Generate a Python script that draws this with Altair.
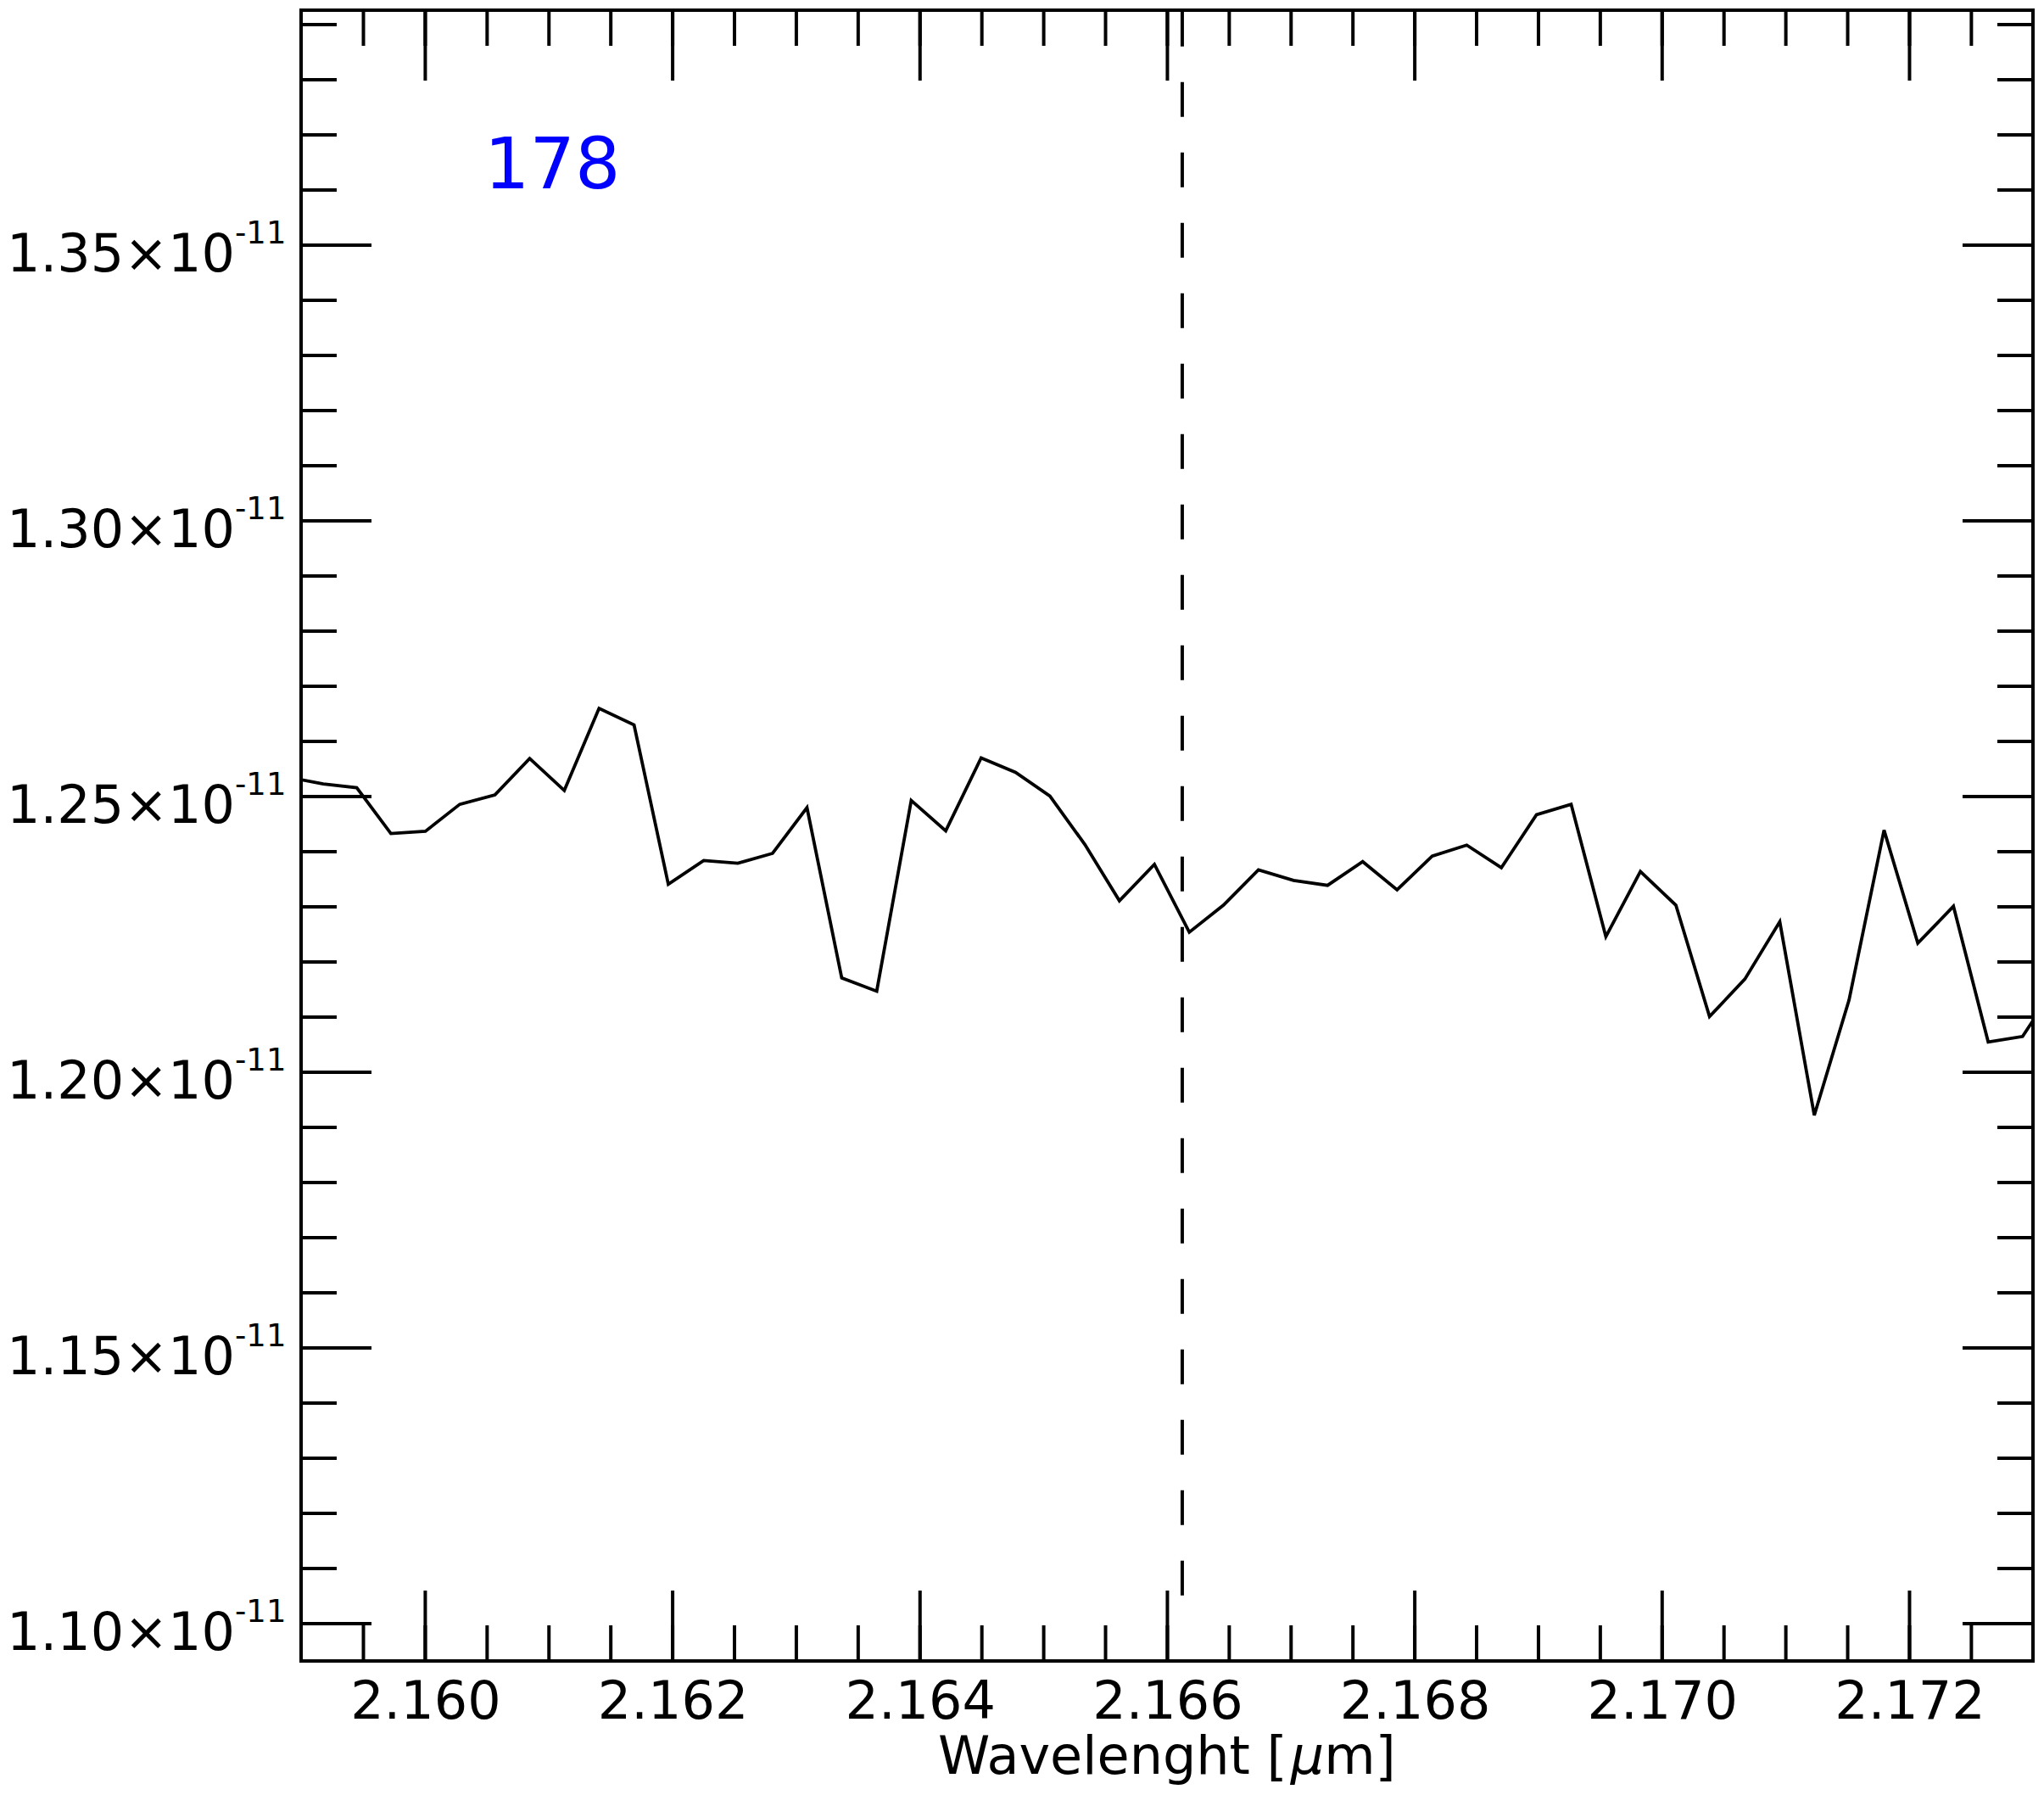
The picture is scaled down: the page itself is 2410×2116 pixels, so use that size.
import altair as alt
import pandas as pd

# ---- data ----
wavelength = [
    2.158894, 2.159175, 2.159446, 2.159722, 2.160001, 2.160279, 2.160563, 2.160844,
    2.161124, 2.161405, 2.161688, 2.161965, 2.162251, 2.162527, 2.162808, 2.163086,
    2.163367, 2.163650, 2.163929, 2.164208, 2.164494, 2.164772, 2.165050, 2.165333,
    2.165612, 2.165895, 2.166177, 2.166453, 2.166736, 2.167020, 2.167295, 2.167579,
    2.167857, 2.168141, 2.168420, 2.168700, 2.168984, 2.169264, 2.169545, 2.169824,
    2.170111, 2.170383, 2.170669, 2.170951, 2.171230, 2.171511, 2.171794, 2.172067,
    2.172355, 2.172636, 2.172914, 2.173193,
]
flux_1e11 = [
    1.2535, 1.2523, 1.2516, 1.2433, 1.2437, 1.2486, 1.2503, 1.2569,
    1.2511, 1.2660, 1.2630, 1.2341, 1.2384, 1.2379, 1.2397, 1.2480,
    1.2171, 1.2147, 1.2493, 1.2438, 1.2570, 1.2544, 1.2501, 1.2413,
    1.2311, 1.2377, 1.2254, 1.2303, 1.2367, 1.2348, 1.2339, 1.2382,
    1.2331, 1.2392, 1.2412, 1.2371, 1.2467, 1.2486, 1.2246, 1.2364,
    1.2303, 1.2101, 1.2169, 1.2273, 1.1922, 1.2131, 1.2439, 1.2234,
    1.2301, 1.2055, 1.2065, 1.2160,
]
line_center = [2.16612]
line_bottom = [1.1051]

x_domain = [2.158996, 2.172998]
y_domain = [1.09323, 1.39262]

x_major = [2.160, 2.162, 2.164, 2.166, 2.168, 2.170, 2.172]
x_minor = [2.1595, 2.1600, 2.1605, 2.1610, 2.1615, 2.1620, 2.1625, 2.1630, 2.1635,
           2.1640, 2.1645, 2.1650, 2.1655, 2.1660, 2.1665, 2.1670, 2.1675, 2.1680,
           2.1685, 2.1690, 2.1695, 2.1700, 2.1705, 2.1710, 2.1715, 2.1720, 2.1725]
y_major = [1.10, 1.15, 1.20, 1.25, 1.30, 1.35]
y_major_text = ["1.10×10", "1.15×10", "1.20×10", "1.25×10", "1.30×10", "1.35×10"]
y_exponent = ["-11", "-11", "-11", "-11", "-11", "-11"]
y_minor = [1.10, 1.11, 1.12, 1.13, 1.14, 1.15, 1.16, 1.17, 1.18, 1.19,
           1.20, 1.21, 1.22, 1.23, 1.24, 1.25, 1.26, 1.27, 1.28, 1.29,
           1.30, 1.31, 1.32, 1.33, 1.34, 1.35, 1.36, 1.37, 1.38, 1.39]
panel_label = ["178"]
x_title_parts = ["Wavelenght [", "μ", "m]"]

# ---- layout ----
W, H = 2042, 1946
MAJ, MIN = 83, 42
FONT = "DejaVu Sans"
TW = 4
FS = 62
LABEL_X = -78

xs = alt.Scale(domain=x_domain, nice=False, zero=False)
ys = alt.Scale(domain=y_domain, nice=False, zero=False)

x_axis = alt.Axis(values=x_major, format=".3f", ticks=False, domain=False, grid=False,
                  labelFont=FONT, labelFontSize=FS, labelColor="black", labelPadding=18,
                  labelFlush=False, labelOverlap=False, title=None)


def X(field="x"):
    return alt.X(f"{field}:Q", scale=xs, axis=x_axis)


def Y(field="y"):
    return alt.Y(f"{field}:Q", scale=ys, axis=None)


spec_df = pd.DataFrame({"x": wavelength, "y": flux_1e11})
line = alt.Chart(spec_df).mark_line(color="black", strokeWidth=3.8, clip=True).encode(
    x=X(), y=Y(), order="x:Q")

dash_df = pd.DataFrame({"x": line_center, "y": line_bottom})
dashed = alt.Chart(dash_df).mark_rule(color="black", strokeWidth=4, strokeDash=[41, 42]).encode(
    x=X(), y=Y(), y2=alt.value(0))

xmaj_df = pd.DataFrame({"x": x_major})
xmin_df = pd.DataFrame({"x": x_minor})
ymaj_df = pd.DataFrame({"y": y_major, "t": y_major_text, "e": y_exponent})
ymin_df = pd.DataFrame({"y": y_minor})

# x-axis title pieces (italic mu, as in the reference)
W_PRE = 415.7   # advance width of "Wavelenght [" at 62px
W_MU = 39.4     # advance width of mu at 62px
TITLE_START = W / 2 - 269.9
TITLE_BASE = 2079

tick = dict(color="black", strokeWidth=TW)
layers = [
    alt.Chart(xmaj_df).mark_rule(**tick).encode(x=X(), y=alt.value(H), y2=alt.value(H - MAJ)),
    alt.Chart(xmaj_df).mark_rule(**tick).encode(x=X(), y=alt.value(0), y2=alt.value(MAJ)),
    alt.Chart(xmin_df).mark_rule(**tick).encode(x=X(), y=alt.value(H), y2=alt.value(H - MIN)),
    alt.Chart(xmin_df).mark_rule(**tick).encode(x=X(), y=alt.value(0), y2=alt.value(MIN)),
    alt.Chart(ymaj_df).mark_rule(**tick).encode(y=Y(), x=alt.value(0), x2=alt.value(MAJ)),
    alt.Chart(ymaj_df).mark_rule(**tick).encode(y=Y(), x=alt.value(W), x2=alt.value(W - MAJ)),
    alt.Chart(ymin_df).mark_rule(**tick).encode(y=Y(), x=alt.value(0), x2=alt.value(MIN)),
    alt.Chart(ymin_df).mark_rule(**tick).encode(y=Y(), x=alt.value(W), x2=alt.value(W - MIN)),
    alt.Chart(ymaj_df).mark_text(align="right", baseline="alphabetic", dy=31, font=FONT,
                                 fontSize=FS, color="black").encode(
        y=Y(), x=alt.value(LABEL_X), text="t:N"),
    alt.Chart(ymaj_df).mark_text(align="left", baseline="alphabetic", dy=-2, font=FONT,
                                 fontSize=37, color="black").encode(
        y=Y(), x=alt.value(LABEL_X), text="e:N"),
    alt.Chart(pd.DataFrame({"t": panel_label})).mark_text(
        align="left", baseline="alphabetic", font=FONT, fontSize=84, color="#0000ff").encode(
        x=alt.value(216), y=alt.value(210), text="t:N"),
    alt.Chart(pd.DataFrame({"t": [x_title_parts[0]]})).mark_text(
        align="left", baseline="alphabetic", font=FONT, fontSize=FS, color="black").encode(
        x=alt.value(TITLE_START), y=alt.value(TITLE_BASE), text="t:N"),
    alt.Chart(pd.DataFrame({"t": [x_title_parts[1]]})).mark_text(
        align="left", baseline="alphabetic", font=FONT, fontSize=FS, fontStyle="italic",
        color="black").encode(
        x=alt.value(TITLE_START + W_PRE), y=alt.value(TITLE_BASE), text="t:N"),
    alt.Chart(pd.DataFrame({"t": [x_title_parts[2]]})).mark_text(
        align="left", baseline="alphabetic", font=FONT, fontSize=FS, color="black").encode(
        x=alt.value(TITLE_START + W_PRE + W_MU), y=alt.value(TITLE_BASE), text="t:N"),
]

chart = alt.layer(line, dashed, *layers).properties(
    width=W, height=H,
    autosize=alt.AutoSizeParams(type="none"),
    padding={"left": 347, "top": 4, "right": 5, "bottom": 150},
).configure(background="white").configure_view(stroke="black", strokeWidth=4)

chart.save("out.html", embed_options={"renderer": "svg", "actions": False})
